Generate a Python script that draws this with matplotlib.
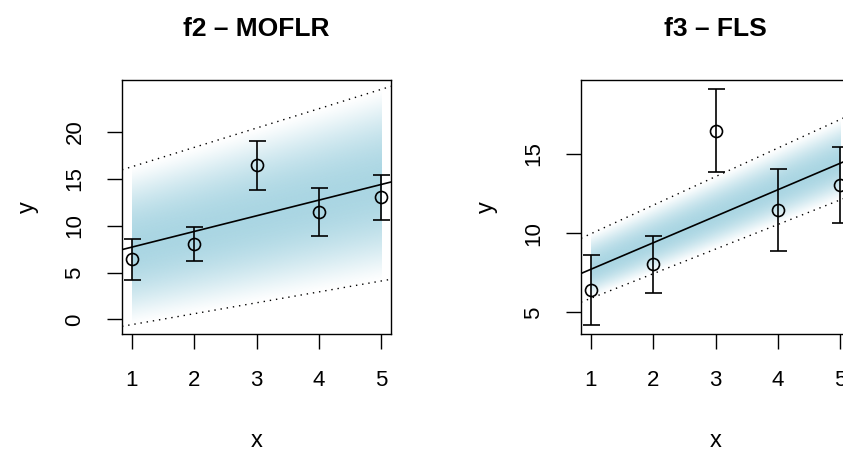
import numpy as np
import matplotlib
matplotlib.use("Agg")
import matplotlib.pyplot as plt

plt.rcParams["font.family"] = ["Liberation Sans", "DejaVu Sans"]

# data
x = [1, 2, 3, 4, 5]
y_obs = [6.43, 8.04, 16.46, 11.47, 13.03]
y_err = [2.2, 1.8, 2.6, 2.6, 2.4]

fit_ends = [7.72, 14.4]          # fitted line at x = 1 and x = 5

moflr_upper = [16.3, 24.55]      # band edges at x = 1 and x = 5
moflr_lower = [-0.55, 4.1]
moflr_yticks = [0, 5, 10, 15, 20]

fls_upper = [9.96, 17.16]
fls_lower = [5.89, 12.09]
fls_yticks = [5, 10, 15]

titles = ["f2 \u2013 MOFLR", "f3 \u2013 FLS"]

FIG_W, FIG_H = 843, 457
DPI = 100
BAND_RGB = np.array([170, 214, 227]) / 255.0


def px(v):
    return v * 72.0 / DPI


def line_at(ends, xs):
    x0, x1 = x[0], x[-1]
    return ends[0] + (ends[1] - ends[0]) * (np.asarray(xs) - x0) / (x1 - x0)


def draw_panel(ax, title, upper, lower, yticks):
    lo = min(min(lower), min(np.subtract(y_obs, y_err)))
    hi = max(max(upper), max(np.add(y_obs, y_err)))
    pad = 0.04 * (hi - lo)
    ax.set_ylim(lo - pad, hi + pad)
    xl = np.array([x[0] - 0.04 * (x[-1] - x[0]), x[-1] + 0.04 * (x[-1] - x[0])])

    # gradient band between the two dotted lines
    gx = np.linspace(x[0], x[-1], 400)
    gy = np.linspace(min(lower), max(upper), 600)
    X, Y = np.meshgrid(gx, gy)
    up = line_at(upper, X)
    low = line_at(lower, X)
    mid = line_at(fit_ends, X)
    half = np.where(Y >= mid, up - mid, mid - low)
    t = np.abs(Y - mid) / half
    alpha = np.clip(1 - t ** 2, 0, 1) ** 1.3
    img = np.zeros(X.shape + (4,))
    img[..., :3] = BAND_RGB
    img[..., 3] = alpha
    ax.imshow(img, extent=[x[0], x[-1], gy[0], gy[-1]], origin="lower",
              aspect="auto", interpolation="bilinear", zorder=1)

    dots = (0, (1, 3.5))
    ax.plot(xl, line_at(upper, xl), color="black", lw=1.0, ls=dots, zorder=3)
    ax.plot(xl, line_at(lower, xl), color="black", lw=1.0, ls=dots, zorder=3)
    ax.plot(xl, line_at(fit_ends, xl), color="black", lw=1.2, zorder=3)
    ax.set_xlim(xl)

    ax.errorbar(x, y_obs, yerr=y_err, fmt="o", ms=px(12), mfc="none", mec="black",
                mew=1.2, ecolor="black", elinewidth=1.2, capsize=px(8.5), capthick=1.2,
                zorder=4)

    ax.set_xticks(x)
    ax.set_yticks(yticks)
    ax.set_yticklabels([str(v) for v in yticks], rotation=90, ha="center", va="center")
    ax.tick_params(direction="out", length=px(15), width=1.0, labelsize=16,
                   pad=px(32), color="black")
    for lab in ax.get_xticklabels():
        lab.set_va("center")
    for s in ax.spines.values():
        s.set_linewidth(1.0)

    box_h = 254.0
    box_w = 269.0
    ax.text(0.5, 1 + (80 - 29) / box_h, title, transform=ax.transAxes, ha="center",
            va="center", fontsize=19, fontweight="bold")
    ax.text(0.5, -(441 - 334) / box_h, "x", transform=ax.transAxes, ha="center",
            va="center", fontsize=17)
    ax.text(-(122 - 28) / box_w, 0.5, "y", transform=ax.transAxes, ha="center",
            va="center", fontsize=17, rotation=90)


def main():
    fig = plt.figure(figsize=(FIG_W / DPI, FIG_H / DPI), dpi=DPI)
    bottom = (FIG_H - 334) / FIG_H
    height = 254 / FIG_H
    width = 269 / FIG_W
    ax1 = fig.add_axes([122 / FIG_W, bottom, width, height])
    ax2 = fig.add_axes([581 / FIG_W, bottom, width, height])

    draw_panel(ax1, titles[0], moflr_upper, moflr_lower, moflr_yticks)
    draw_panel(ax2, titles[1], fls_upper, fls_lower, fls_yticks)

    fig.savefig("out.png", dpi=DPI)
    plt.close(fig)


if __name__ == "__main__":
    main()
